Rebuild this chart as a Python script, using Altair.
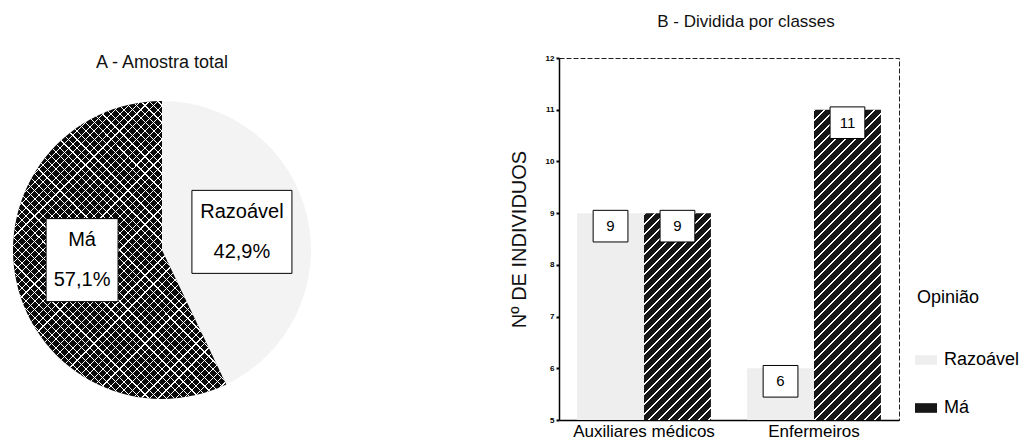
import math
import altair as alt
import pandas as pd

# ---------------- data ----------------
pie_opinions = ["Razoável", "Má"]
pie_percent = [42.9, 57.1]
pie_pct_text = ["42,9%", "57,1%"]

classes = ["Auxiliares médicos", "Enfermeiros"]
opinions = ["Razoável", "Má"]
razoavel_counts = [9, 6]
ma_counts = [9, 11]

y_ticks = [5, 6, 7, 8, 9, 10, 11, 12]

# ---------------- style / layout ----------------
FONT = "Liberation Sans"
PIE_W, PIE_H, PIE_R = 322, 384, 149
BAR_W, BAR_H = 340, 362
Y_MIN, Y_MAX = 5, 12
OFF_PAD = 0.27
LABEL_K = 0.55


def stripe_gradient(w, h, period, frac, line_color, bg_color, direction):
    """Diagonal stripes (45 deg on screen) as an objectBoundingBox linear gradient."""
    r = h / w
    denom = w * (1 + r * r)
    dt = period / denom
    tmax = min((w + h) / denom, 1.0)
    stops = []
    t = 0.0
    while t < tmax and t < 1.0:
        b = min(t + dt * frac, 1.0)
        c = min(t + dt, 1.0)
        stops += [(t, line_color), (b, line_color), (b, bg_color), (c, bg_color)]
        t += dt
    if direction == "/":
        x1, y1, x2, y2 = 0, 0, 1, r
    else:
        x1, y1, x2, y2 = 0, 1, 1, 1 - r
    return alt.LinearGradient(
        gradient="linear", x1=x1, y1=y1, x2=x2, y2=y2,
        stops=[alt.GradientStop(offset=round(o, 6), color=col) for o, col in stops],
    )


# ---------------- pie (A) ----------------
pie_df = pd.DataFrame({
    "Opinião": pie_opinions,
    "pct": pie_percent,
    "txt": pie_pct_text,
    "i": list(range(len(pie_opinions))),
})

pie_base = alt.Chart(pie_df).transform_window(
    cum="sum(pct)", sort=[alt.SortField("i")], frame=[None, 0]
).transform_calculate(
    start="datum.cum - datum.pct",
    end="datum.cum",
    label="datum['Opinião'] + '\\n' + datum.txt",
    mid="(datum.cum - datum.pct / 2) / 100 * 2 * PI",
    lx=f"{LABEL_K} * sin(datum.mid)",
    ly=f"{LABEL_K} * cos(datum.mid)",
)

theta_enc = alt.Theta("start:Q", scale=alt.Scale(domain=[0, 100]))
pie_fill = pie_base.mark_arc(radius=PIE_R).encode(
    theta=theta_enc,
    theta2="end:Q",
    color=alt.Color("Opinião:N", scale=alt.Scale(domain=pie_opinions, range=["#f3f3f3", "#0a0a0a"]), legend=None),
)

# bounding box of the "Má" slice, derived from its share
ma_share = pie_percent[1] / 100.0
ma_start_angle = (1 - ma_share) * 2 * math.pi
ma_w = PIE_R * (1 + max(0.0, math.sin(ma_start_angle)))
ma_h = 2 * PIE_R
hatch1 = stripe_gradient(ma_w, ma_h, 8.5, 0.17, "#ffffff", "rgba(255,255,255,0)", "/")
hatch2 = stripe_gradient(ma_w, ma_h, 8.5, 0.17, "#ffffff", "rgba(255,255,255,0)", "\\")

pie_ma = pie_base.transform_filter("datum['Opinião'] == 'Má'")
pie_hatch1 = pie_ma.mark_arc(radius=PIE_R, fill=hatch1).encode(theta=theta_enc, theta2="end:Q")
pie_hatch2 = pie_ma.mark_arc(radius=PIE_R, fill=hatch2).encode(theta=theta_enc, theta2="end:Q")

xs = alt.Scale(domain=[-PIE_W / 2 / PIE_R, PIE_W / 2 / PIE_R], nice=False, zero=False)
ys = alt.Scale(domain=[-PIE_H / 2 / PIE_R, PIE_H / 2 / PIE_R], nice=False, zero=False)
pos = dict(x=alt.X("lx:Q", scale=xs, axis=None), y=alt.Y("ly:Q", scale=ys, axis=None))

box_ma = pie_base.transform_filter("datum['Opinião'] == 'Má'").mark_point(
    shape="M-0.867,-1H0.867V1H-0.867Z", size=83 * 83, filled=True,
    fill="white", stroke="black", strokeWidth=1, opacity=1, yOffset=-8,
).encode(**pos)
box_raz = pie_base.transform_filter("datum['Opinião'] == 'Razoável'").mark_point(
    shape="M-1.205,-1H1.205V1H-1.205Z", size=83 * 83, filled=True,
    fill="white", stroke="black", strokeWidth=1, opacity=1,
).encode(**pos)
txt_ma = pie_base.transform_filter("datum['Opinião'] == 'Má'").mark_text(
    font=FONT, fontSize=20, lineBreak="\n", lineHeight=40, color="black", dy=-28
).encode(text="label:N", **pos)
txt_raz = pie_base.transform_filter("datum['Opinião'] == 'Razoável'").mark_text(
    font=FONT, fontSize=20, lineBreak="\n", lineHeight=40, color="black", dy=-20
).encode(text="label:N", **pos)

pie = alt.layer(pie_fill, pie_hatch1, pie_hatch2, box_ma, box_raz, txt_ma, txt_raz).properties(
    width=PIE_W, height=PIE_H,
    title=alt.TitleParams("A - Amostra total", font=FONT, fontSize=18, fontWeight="normal",
                          color="#111", offset=-14),
    view=alt.ViewBackground(stroke="transparent"),
)

# ---------------- bars (B) ----------------
bar_df = pd.DataFrame({
    "Classe": [c for c in classes for _ in opinions],
    "Opinião": opinions * len(classes),
    "N": [v for pair in zip(razoavel_counts, ma_counts) for v in pair],
})

x_enc = alt.X("Classe:N", scale=alt.Scale(domain=classes, paddingInner=0, paddingOuter=0),
              axis=alt.Axis(title=None, labelAngle=0, labelFont=FONT, labelFontSize=17,
                            labelColor="black", labelPadding=3, ticks=False,
                            domainColor="black", domainWidth=1.5))
xo_enc = alt.XOffset("Opinião:N", scale=alt.Scale(domain=opinions, paddingInner=0, paddingOuter=OFF_PAD))
y_enc = alt.Y("N:Q", scale=alt.Scale(domain=[Y_MIN, Y_MAX], nice=False, zero=False),
              axis=alt.Axis(values=y_ticks, title="Nº DE INDIVIDUOS", titleFont=FONT,
                            titleFontSize=20, titleFontWeight="normal", titleColor="#111",
                            titlePadding=16, labelFont=FONT, labelFontSize=8,
                            labelFontWeight="bold", labelColor="black", labelPadding=2,
                            tickSize=3, tickWidth=2, tickColor="black",
                            domainColor="black", domainWidth=1.5, grid=False))

bar_base = alt.Chart(bar_df).encode(x=x_enc, xOffset=xo_enc, y=y_enc)
bar_floor = alt.Y2(datum=Y_MIN)

bars = bar_base.mark_bar().encode(
    y2=bar_floor,
    color=alt.Color("Opinião:N", scale=alt.Scale(domain=opinions, range=["#eeeeee", "#161616"]),
                    legend=alt.Legend(
                        title="Opinião", orient="none", legendX=358, legendY=231, padding=0,
                        titleFont=FONT, titleFontSize=18, titleFontWeight="normal", titleColor="black",
                        titlePadding=44, labelFont=FONT, labelFontSize=18, labelColor="black",
                        symbolType="M-1.6,-0.7H1.6V0.7H-1.6Z", symbolSize=189, symbolStrokeWidth=0,
                        rowPadding=30, labelOffset=9)),
)

band_w = (BAR_W / len(classes)) / (len(opinions) + 2 * OFF_PAD)
hatch_layers = []
for cls, v in zip(classes, ma_counts):
    h = (v - Y_MIN) / (Y_MAX - Y_MIN) * BAR_H
    g = stripe_gradient(band_w, h, 10, 0.2, "#ffffff", "rgba(255,255,255,0)", "/")
    hatch_layers.append(
        bar_base.transform_filter(f"datum.Classe == '{cls}' && datum['Opinião'] == 'Má'")
        .mark_bar(fill=g).encode(y2=bar_floor)
    )

val_boxes = bar_base.mark_point(
    shape="M-1.1,-1H1.1V1H-1.1Z", size=1000, filled=True, fill="white",
    stroke="black", strokeWidth=1, opacity=1, yOffset=13,
)
val_text = bar_base.mark_text(font=FONT, fontSize=15, color="black", yOffset=13).encode(text="N:Q")

bar = alt.layer(bars, *hatch_layers, val_boxes, val_text).properties(
    width=BAR_W, height=BAR_H,
    title=alt.TitleParams("B - Dividida por classes", font=FONT, fontSize=17, fontWeight="normal",
                          color="#111", offset=23, dx=17),
    view=alt.ViewBackground(stroke="#222", strokeDash=[5, 2], strokeWidth=1),
)

chart = alt.hconcat(pie, bar, spacing=558 - PIE_W).properties(
    bounds="flush",
    padding={"left": 0, "top": 12, "right": 0, "bottom": 0},
).resolve_scale(color="independent").resolve_legend(color="independent").configure_view(
    stroke="transparent"
)

chart.save("out.html", embed_options={"renderer": "svg", "actions": False})
